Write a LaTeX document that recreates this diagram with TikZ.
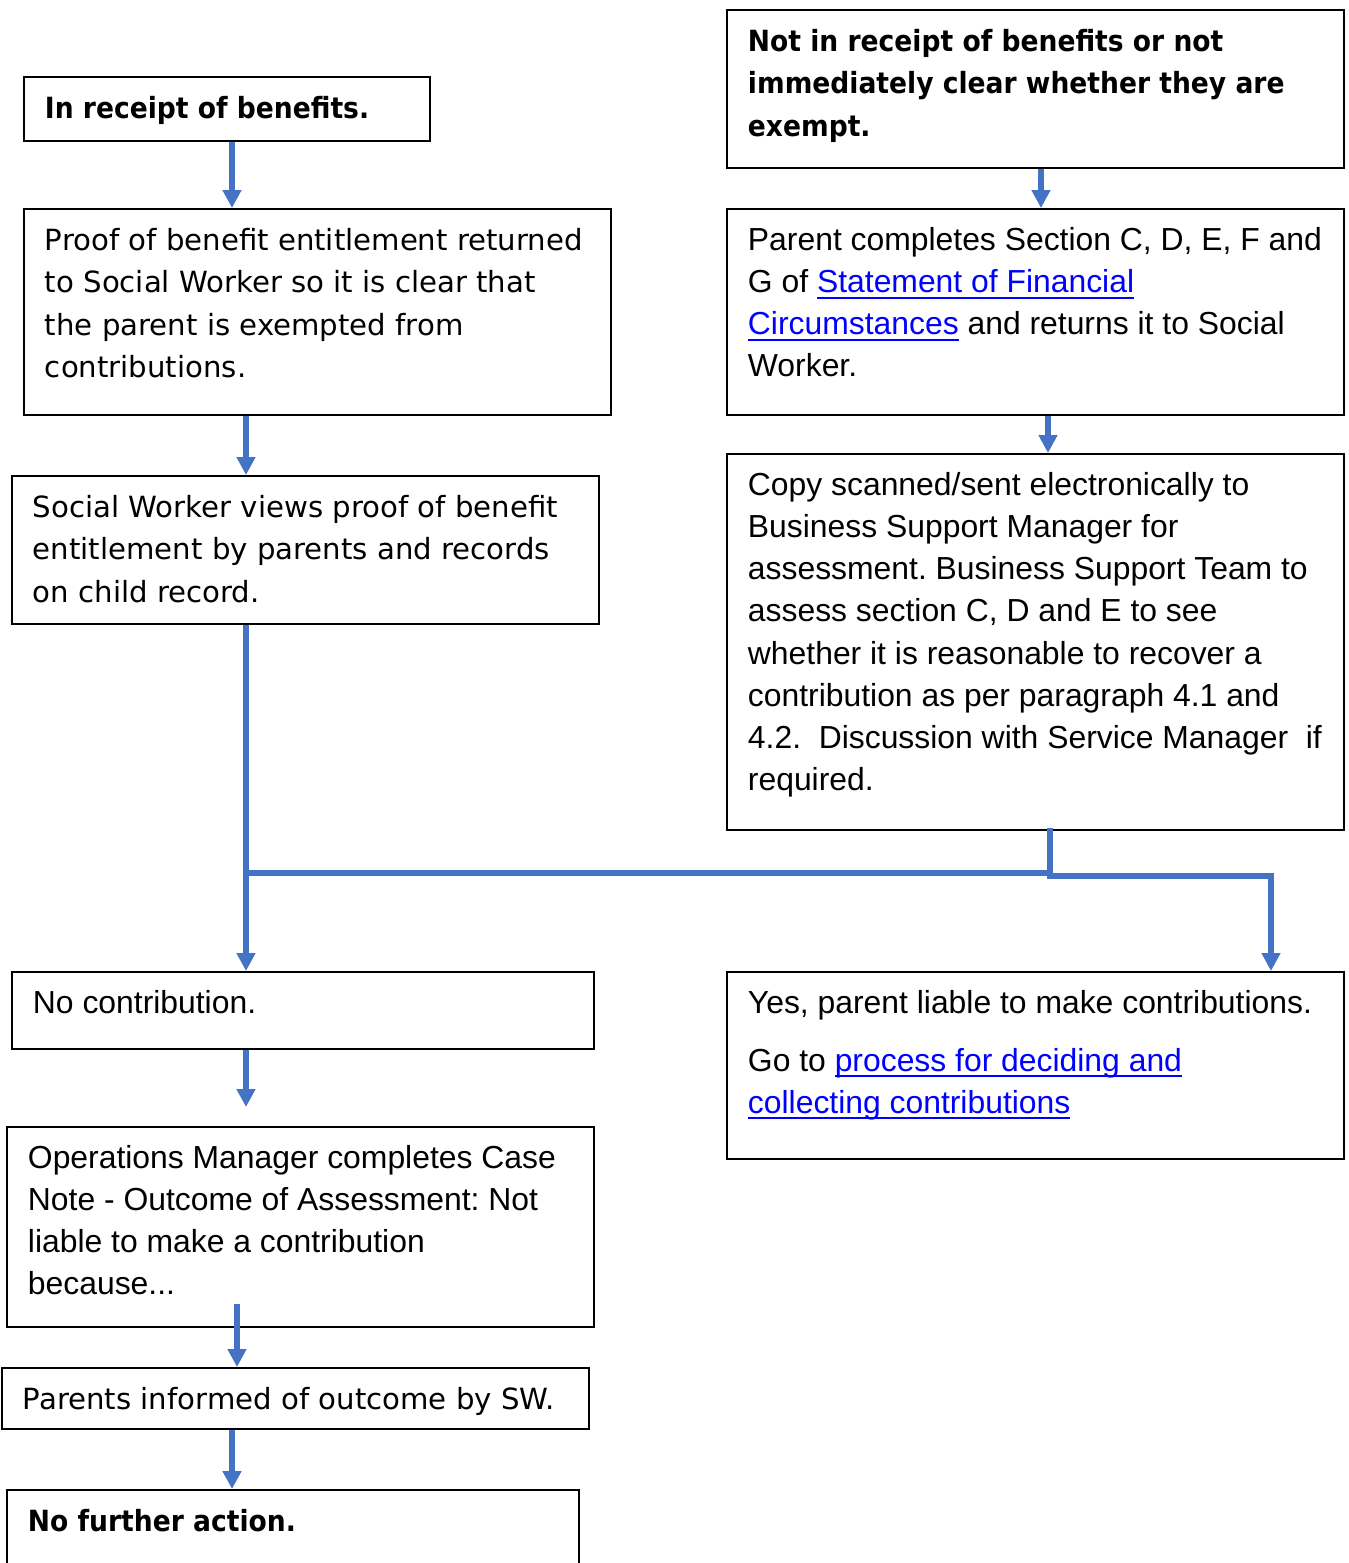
\documentclass[tikz,border=0pt]{standalone}
\usepackage{fontspec}
\usetikzlibrary{arrows.meta}
\setmainfont{Liberation Sans}
\newfontfamily\tahfont{DejaVu Sans}
\newfontfamily\tahbold[FakeStretch=0.91]{DejaVu Sans}
\definecolor{arrowblue}{RGB}{68, 114, 196}
\definecolor{linkblue}{RGB}{0, 0, 255}
\newdimen\pxu \pxu=0.02cm
\newcommand{\arialsize}{\fontsize{18.14pt}{23.98pt}\selectfont}
\newcommand{\tahsize}{\fontsize{16.61pt}{24.09pt}\selectfont}
% underlined blue link text
\newcommand{\lnk}[1]{{\color{linkblue}\setbox0\hbox{#1}\rlap{\vrule height -2.3pt depth 3.4pt width \wd0}\box0}}
% box of given width and height (px), text starts 21px in, first baseline 41.5px down
\newcommand{\cellbody}[3]{\vbox to #2\pxu{\hsize=#1\pxu
    \vskip\dimexpr 41.5\pxu-\ht\strutbox\relax
    \hbox to #1\pxu{\hskip 21\pxu\rlap{\vtop{\hsize=40cm\parindent=0pt\rightskip=0pt plus 1fil\frenchspacing\strut #3\par}}\hss}%
    \vfil}}
\tikzset{
  box/.style={draw=black, line width=1.1pt, inner sep=0pt, anchor=north west},
  arial/.style={font=\arialsize},
  tahoma/.style={font=\tahfont\tahsize},
  connector/.style={draw=arrowblue, line width=2.9pt, line cap=rect},
  arrowline/.style={draw=arrowblue, line width=2.9pt, -{Triangle[width=10.2pt, length=10.2pt]}},
}

\begin{document}
\begin{tikzpicture}[x=0.02cm, y=-0.02cm]
    \useasboundingbox (0,0) rectangle (1349,1563);
    % left column
    \node[box, tahoma] (benefits)  at (  23,   76) {\cellbody{406}{64}{\tahbold\bfseries In receipt of benefits.}};
    \node[box, tahoma] (proof)     at (  23,  208) {\cellbody{587}{206}{Proof of benefit entitlement returned\newline
        to Social Worker so it is clear that\newline the parent is exempted from\newline contributions.}};
    \node[box, tahoma] (views)     at (  11,  475) {\cellbody{587}{148}{Social Worker views proof of benefit\newline
        entitlement by parents and records\newline on child record.}};
    \node[box, arial]  (nocontrib) at (  11,  971) {\cellbody{582}{77}{No contribution.}};
    \node[box, arial]  (opsnote)   at (   6, 1126) {\cellbody{587}{200}{Operations Manager completes Case\newline
        Note - Outcome of Assessment: Not\newline liable to make a contribution\newline because...}};
    \node[box, tahoma] (informed)  at (   1, 1367) {\cellbody{587}{61}{Parents informed of outcome by SW.}};
    \node[box, tahoma] (nofurther) at (   6, 1489) {\cellbody{572}{100}{\tahbold\bfseries No further action.}};
    % right column
    \node[box, tahoma] (notreceipt)  at (726,   9) {\cellbody{617}{158}{\tahbold\bfseries Not in receipt of benefits or not\newline
        immediately clear whether they are\newline exempt.}};
    \node[box, arial]  (sectionform) at (726, 208) {\cellbody{617}{206}{Parent completes Section C, D, E, F and\newline
        G of \lnk{Statement of Financial}\newline \lnk{Circumstances} and returns it to Social\newline Worker.}};
    \node[box, arial]  (copysent)    at (726, 453) {\cellbody{617}{376}{Copy scanned/sent electronically to\newline
        Business Support Manager for\newline assessment. Business Support Team to\newline
        assess section C, D and E to see\newline whether it is reasonable to recover a\newline
        contribution as per paragraph 4.1 and\newline 4.2.\ \ Discussion with Service Manager\ \ if\newline required.}};
    \node[box, arial]  (liable)      at (726, 971) {\cellbody{617}{187}{Yes, parent liable to make contributions.\par
        \vspace{15.7\pxu}\strut Go to \lnk{process for deciding and}\newline \lnk{collecting contributions}}};

    % connectors
    \coordinate (merge) at ( 246, 873);
    \coordinate (split) at (1050, 873);
    \coordinate (elbow) at (1271, 876);
    \coordinate (tipA)  at ( 246, 1107);
    \coordinate (tailB) at ( 237, 1304);
    \draw[arrowline] (benefits.south -| 232,0) -- (proof.north -| 232,0);
    \draw[arrowline] (proof.south -| 246,0) -- (views.north -| 246,0);
    \draw[arrowline] (views.south -| merge) -- (nocontrib.north -| merge);
    \draw[connector] (copysent.south -| split) -- (split |- elbow);
    \draw[connector] (split) -- (merge);
    \draw[arrowline] (split |- elbow) -- (elbow) -- (liable.north -| elbow);
    \draw[arrowline] (nocontrib.south -| tipA) -- (tipA);
    \draw[arrowline] (tailB) -- (informed.north -| tailB);
    \draw[arrowline] (informed.south -| 232,0) -- (nofurther.north -| 232,0);
    \draw[arrowline] (notreceipt.south -| 1041,0) -- (sectionform.north -| 1041,0);
    \draw[arrowline] (sectionform.south -| 1048,0) -- (copysent.north -| 1048,0);
\end{tikzpicture}
\end{document}
